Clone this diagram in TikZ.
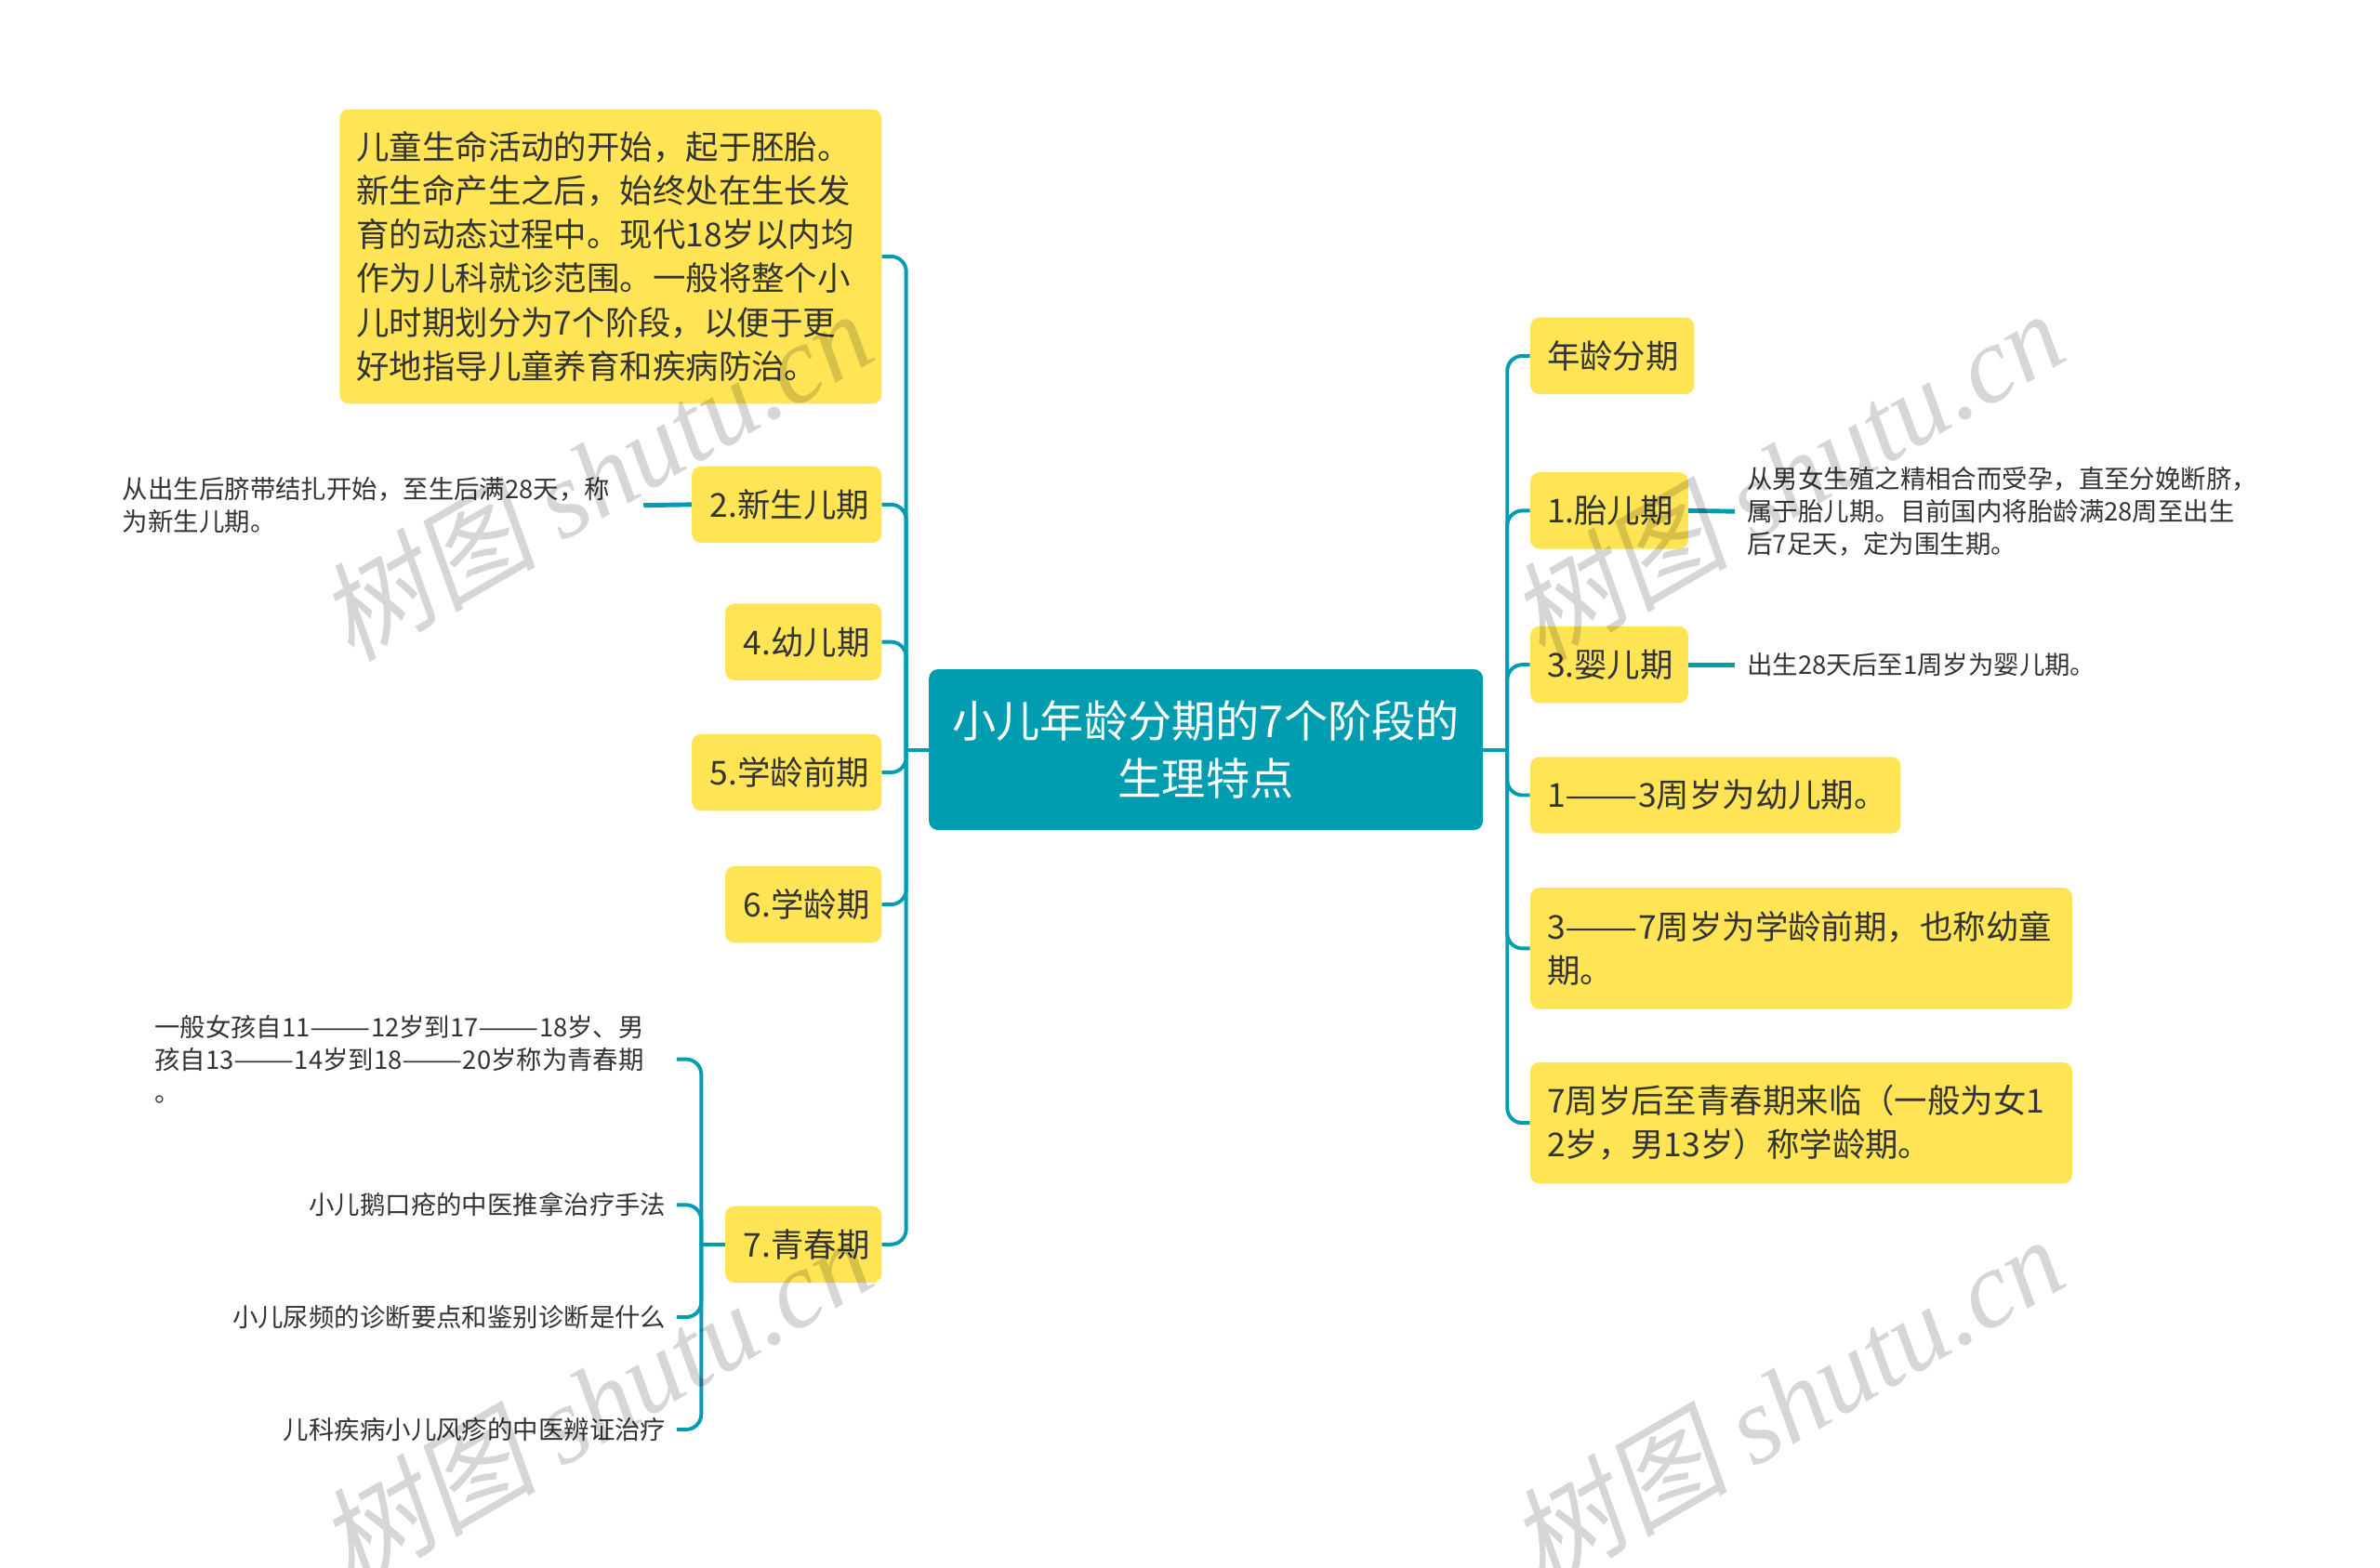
\documentclass[tikz,border=0pt]{standalone}
\usepackage{fontspec}
\usepackage{xcolor}
\setmainfont{Noto Sans CJK SC}
\newfontfamily\markserif{Liberation Serif}[ItalicFont=* Italic]
\newfontfamily\markcjk{Noto Sans CJK SC}[FakeSlant=0.18]
\definecolor{tealmain}{HTML}{009CB0}
\definecolor{yellowbox}{HTML}{FFE555}
\definecolor{inktext}{HTML}{333333}
% double dash as wide as two characters
\newcommand{\longdash}{\scalebox{1.32}[1]{——}}
\newcommand{\notedash}{\scalebox{1.42}[1]{——}}
\newcommand{\marktext}{{\markcjk 树图} {\markserif\itshape shutu.cn}}
\begin{document}
\begin{tikzpicture}
    [x=1pt,y=-1pt,
    link/.style = {draw=tealmain,line width=2.4pt,rounded corners=10pt},
    leaf/.style = {draw=tealmain,line width=3pt},
    root/.style = {fill=tealmain,text=white,rounded corners=6pt,inner sep=0pt,
                minimum width=365pt,minimum height=106pt,align=center,
                font=\fontsize{28.9}{38}\selectfont},
    stage/.style = {fill=yellowbox,text=inktext,rounded corners=6pt,inner xsep=11pt,inner ysep=0pt,
                minimum height=50.5pt,align=left,
                font=\fontsize{21.7}{28.8}\selectfont},
    note/.style = {text=inktext,inner xsep=0pt,inner ysep=0pt,align=left,
                font=\fontsize{16.8}{21.5}\selectfont},
    wmark/.style = {text=black,opacity=0.16,rotate=30,inner sep=0pt,
                font=\fontsize{72}{72}\selectfont}]
    \useasboundingbox (0,0) rectangle (1568,1033.2);
    % Tema central
    \node[root] (title) at (794.5,494) {小儿年龄分期的7个阶段的\\生理特点};
    \coordinate (spineL) at (597,494);
    \coordinate (spineR) at (993,494);
    \coordinate (spineT) at (462,820);
    % Ramas izquierda
    \node[stage,anchor=east,minimum height=194pt,text width=335pt] (intro) at (581,169)
        {儿童生命活动的开始，起于胚胎。\\新生命产生之后，始终处在生长发\\育的动态过程中。现代18岁以内均\\作为儿科就诊范围。一般将整个小\\儿时期划分为7个阶段，以便于更\\好地指导儿童养育和疾病防治。};
    \node[stage,anchor=east,inner xsep=12pt,text width=101pt] (newborn) at (581,332.5) {2.新生儿期};
    \node[stage,anchor=east,inner xsep=12pt,text width=79pt] (infantL) at (581,423) {4.幼儿期};
    \node[stage,anchor=east,inner xsep=12pt,text width=101pt] (preschoolL) at (581,509) {5.学龄前期};
    \node[stage,anchor=east,inner xsep=12pt,text width=79pt] (schoolL) at (581,596) {6.学龄期};
    \node[stage,anchor=east,inner xsep=12pt,text width=79pt] (teen) at (581,820) {7.青春期};
    % Ramas derecha
    \node[stage,anchor=west,text width=86pt] (agegroup) at (1008,234.5) {年龄分期};
    \node[stage,anchor=west,text width=82pt] (fetal) at (1008,336.5) {1.胎儿期};
    \node[stage,anchor=west,text width=82pt] (baby) at (1008,438) {3.婴儿期};
    \node[stage,anchor=west,text width=222pt] (toddler) at (1008,524) {1\longdash 3周岁为幼儿期。};
    \node[stage,anchor=west,minimum height=80pt,text width=335pt] (preschoolR) at (1008,625)
        {3\longdash 7周岁为学龄前期，也称幼童\\期。};
    \node[stage,anchor=west,minimum height=80pt,text width=335pt] (schoolR) at (1008,740)
        {7周岁后至青春期来临（一般为女1\\2岁，男13岁）称学龄期。};
    % Notas
    \node[note,anchor=east,text width=343pt] (newbornnote) at (424,333)
        {从出生后脐带结扎开始，至生后满28天，称\\为新生儿期。};
    \node[note,anchor=west,inner xsep=8pt] (fetalnote) at (1143,337)
        {从男女生殖之精相合而受孕，直至分娩断脐，\\属于胎儿期。目前国内将胎龄满28周至出生\\后7足天，定为围生期。};
    \node[note,anchor=west,inner xsep=8pt] (babynote) at (1143,438) {出生28天后至1周岁为婴儿期。};
    \node[note,anchor=east,text width=344pt] (teenA) at (446,698)
        {一般女孩自11\notedash 12岁到17\notedash 18岁、男\\孩自13\notedash 14岁到18\notedash 20岁称为青春期\\。};
    \node[note,anchor=east,inner xsep=7pt] (teenB) at (446,794) {小儿鹅口疮的中医推拿治疗手法};
    \node[note,anchor=east,inner xsep=7pt] (teenC) at (446,868) {小儿尿频的诊断要点和鉴别诊断是什么};
    \node[note,anchor=east,inner xsep=7pt] (teenD) at (446,942) {儿科疾病小儿风疹的中医辨证治疗};
    % Conectores
    \draw[link] (title.west) -- (spineL);
    \draw[link] (title.east) -- (spineR);
    \foreach \n in {intro,newborn,infantL,preschoolL,schoolL,teen}
        \draw[link] (spineL) |- (\n.east);
    \foreach \n in {agegroup,fetal,baby,toddler,preschoolR,schoolR}
        \draw[link] (spineR) |- (\n.west);
    \draw[leaf] (newborn.west) -- (newbornnote.east);
    \draw[leaf] (fetal.east) -- (fetalnote.west);
    \draw[leaf] (baby.east) -- (babynote.west);
    \draw[link] (teen.west) -- (spineT);
    \foreach \n in {teenA,teenB,teenC,teenD}
        \draw[link] (spineT) |- (\n.east);
    % Marca de agua
    \node[wmark] (markA) at (392,313) {\marktext};
    \node[wmark] (markB) at (1177,313) {\marktext};
    \node[wmark] (markC) at (392,923) {\marktext};
    \node[wmark] (markD) at (1177,923) {\marktext};
\end{tikzpicture}
\end{document}
